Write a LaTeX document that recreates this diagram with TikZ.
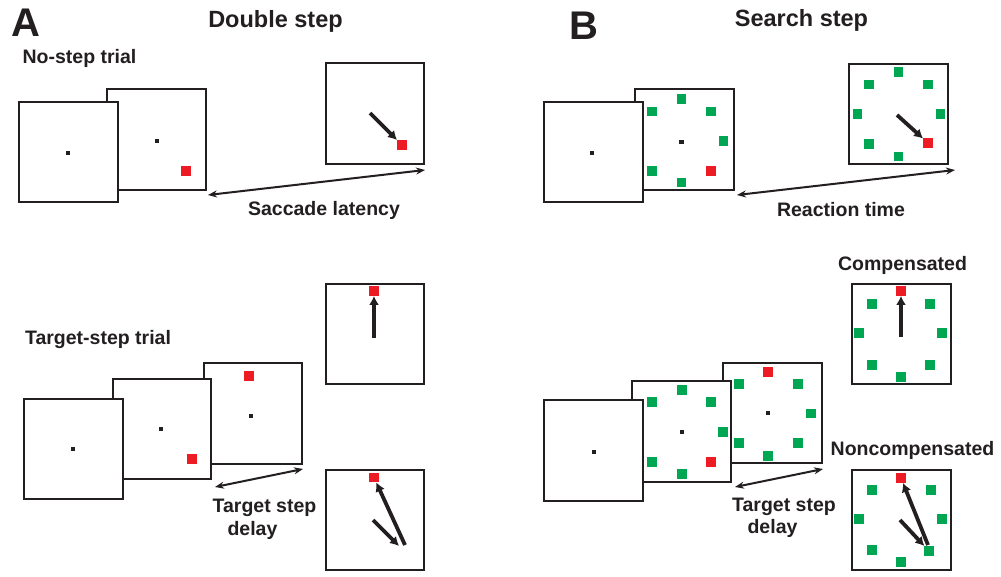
\documentclass[tikz,border=0pt]{standalone}
\usepackage{fontspec}
\setmainfont{Liberation Sans}
\usetikzlibrary{arrows.meta,calc}
\definecolor{tred}{RGB}{237,28,36}
\definecolor{tgreen}{RGB}{0,166,81}
\definecolor{ink}{RGB}{35,31,32}
\begin{document}
\begin{tikzpicture}[x=1pt,y=-1pt,
  screen/.style={draw=ink, line width=2.4pt, fill=white, minimum width=98.5pt, minimum height=100.5pt, inner sep=0pt},
  sq/.style={inner sep=0pt, minimum size=9.5pt},
  redsq/.style={sq, fill=tred},
  fix/.style={inner sep=0pt, minimum size=4.2pt, fill=ink},
  fixs/.style={inner sep=0pt, minimum size=3.6pt, fill=ink},
  sacc/.style={draw=ink, line width=3.8pt, -{Latex[length=9pt,width=10pt]}},
  span/.style={draw=ink, line width=2pt, {Stealth[length=9pt,width=7pt]}-{Stealth[length=9pt,width=7pt]}},
  lbl/.style={inner sep=0pt, font=\bfseries\fontsize{19.5}{21}\selectfont, text=ink},
  ttl/.style={inner sep=0pt, font=\bfseries\fontsize{23.5}{25}\selectfont, text=ink},
  panel/.style={inner sep=0pt, font=\bfseries\fontsize{40}{42}\selectfont, text=ink}
]
\fill[white] (0,0) rectangle (1001,577);
\useasboundingbox (0,0) rectangle (1001,577);

% ================= Panel A =================
\node[panel] (labA) at (26,23) {A};
\node[ttl] (ttlA) at (275.5,21.5) {Double step};
\node[lbl] (nsAlbl) at (79.5,58) {No-step trial};

% no-step trial
\node[screen] (nsA2) at (156.5,139.5) {};
\node[fix] (nsA2f) at (157,141) {};
\node[redsq] (nsA2t) at (186,171) {};
\node[screen] (nsA1) at (68.5,152) {};
\node[fixs] (nsA1f) at (68,153) {};
\node[screen] (nsA3) at (375,113.5) {};
\node[redsq] (nsA3t) at (402,145) {};
\coordinate (nsA3s) at (370,113);
\draw[sacc] (nsA3s) -- (nsA3t);
\coordinate (latL) at (208,195);
\coordinate (latR) at (425,170);
\draw[span] (latL) -- (latR);
\node[lbl] (latlbl) at (324,210) {Saccade latency};

% target-step trial
\node[lbl] (tsAlbl) at (98,340) {Target-step trial};
\node[screen] (tsA3) at (253,413.5) {};
\node[redsq] (tsA3t) at (249,376) {};
\node[fix] (tsA3f) at (251,416) {};
\node[screen] (tsA2) at (162,429) {};
\node[fix] (tsA2f) at (161,429) {};
\node[redsq] (tsA2t) at (192,459) {};
\node[screen] (tsA1) at (73.5,449) {};
\node[fixs] (tsA1f) at (73,449) {};

\node[screen] (tsA4) at (375,334) {};
\node[redsq] (tsA4t) at (374,291) {};
\coordinate (tsA4s) at (374,338);
\draw[sacc] (tsA4s) -- (tsA4t);

\node[screen] (tsA5) at (375,520) {};
\node[redsq] (tsA5t) at (374,477.5) {};
\coordinate (tsA5s) at (373,520);
\coordinate (tsA5m) at (399,546);
\coordinate (tsA5r) at (405,545);
\draw[sacc] (tsA5s) -- (tsA5m);
\draw[sacc] (tsA5r) -- (tsA5t);

\coordinate (tsdAL) at (215,487);
\coordinate (tsdAR) at (303,469);
\draw[span] (tsdAL) -- (tsdAR);
\node[lbl] (tsdA1) at (264.5,508) {Target step};
\node[lbl] (tsdA2) at (252.5,530) {delay};

% ================= Panel B =================
\node[panel] (labB) at (584,26) {B};
\node[ttl] (ttlB) at (801.5,20) {Search step};

% search trial
\node[screen] (ssB2) at (684.5,139.5) {};
\node[fix] (ssB2f) at (681.5,142) {};
\foreach \n/\dx/\dy/\c in {t/0/-42/tgreen, tr/29.5/-29.5/tgreen, r/42/0/tgreen, br/29.5/30/tred, b/0/41.5/tgreen, bl/-29.5/30/tgreen, tl/-29.5/-29.5/tgreen}
  \node[sq, fill=\c] (ssB2-\n) at ($(681.5,141)+(\dx,\dy)$) {};
\node[screen] (ssB1) at (593.5,152) {};
\node[fixs] (ssB1f) at (592,153) {};

\node[screen] (ssB3) at (898.5,114) {};
\foreach \n/\dx/\dy/\c in {t/0/-42/tgreen, tr/29.5/-29.5/tgreen, r/42/0/tgreen, br/29.5/29/tred, b/0/42.5/tgreen, bl/-29.5/30/tgreen, l/-41/0/tgreen, tl/-29.5/-29.5/tgreen}
  \node[sq, fill=\c] (ssB3-\n) at ($(898.5,114)+(\dx,\dy)$) {};
\coordinate (ssB3s) at (897,115);
\draw[sacc] (ssB3s) -- (ssB3-br);
\coordinate (rtL) at (737,195);
\coordinate (rtR) at (955,170);
\draw[span] (rtL) -- (rtR);
\node[lbl] (rtlbl) at (841,210) {Reaction time};

% target-step search
\node[screen] (tsB3) at (772.5,413) {};
\node[fix] (tsB3f) at (768,413) {};
\foreach \n/\dx/\dy/\c in {t/0/-41.5/tred, tr/30/-29.5/tgreen, r/43/0/tgreen, br/30/29.5/tgreen, b/0/42.5/tgreen, bl/-29/29.5/tgreen, tl/-29/-29.5/tgreen}
  \node[sq, fill=\c] (tsB3-\n) at ($(768,413.5)+(\dx,\dy)$) {};
\node[screen] (tsB2) at (681.5,431.5) {};
\node[fix] (tsB2f) at (682,432) {};
\foreach \n/\dx/\dy/\c in {t/0/-42/tgreen, tr/29/-30/tgreen, r/41/0/tgreen, br/29/30/tred, b/0/42/tgreen, bl/-30/30/tgreen, tl/-30/-30/tgreen}
  \node[sq, fill=\c] (tsB2-\n) at ($(682,432)+(\dx,\dy)$) {};
\node[screen] (tsB1) at (593.5,450.5) {};
\node[fixs] (tsB1f) at (594,452) {};

\coordinate (tsdBL) at (735,487);
\coordinate (tsdBR) at (823,469);
\draw[span] (tsdBL) -- (tsdBR);
\node[lbl] (tsdB1) at (784,506.5) {Target step};
\node[lbl] (tsdB2) at (772.5,528) {delay};

% compensated
\node[lbl] (complbl) at (902.5,265) {Compensated};
\node[screen] (compB) at (901.5,334) {};
\foreach \n/\dx/\dy/\c in {t/0/-43/tred, tr/29/-30/tgreen, r/41/-1/tgreen, br/29/31/tgreen, b/0/43/tgreen, bl/-29/31/tgreen, l/-42/-1/tgreen, tl/-29/-30/tgreen}
  \node[sq, fill=\c] (compB-\n) at ($(901,334)+(\dx,\dy)$) {};
\coordinate (compBs) at (901,337);
\draw[sacc] (compBs) -- (compB-t);

% noncompensated
\node[lbl] (nclbl) at (912.5,450) {Noncompensated};
\node[screen] (ncB) at (901.5,520) {};
\foreach \n/\dx/\dy/\c in {t/0/-42/tred, tr/30/-30/tgreen, r/41/-1/tgreen, br/28/31/tgreen, b/0/42/tgreen, bl/-29/30/tgreen, l/-42/-1/tgreen, tl/-29/-30/tgreen}
  \node[sq, fill=\c] (ncB-\n) at ($(901,520)+(\dx,\dy)$) {};
\coordinate (ncBs) at (900,520);
\coordinate (ncBr) at (928,545);
\draw[sacc] (ncBs) -- (ncB-br);
\draw[sacc] (ncBr) -- (ncB-t);
\end{tikzpicture}
\end{document}
